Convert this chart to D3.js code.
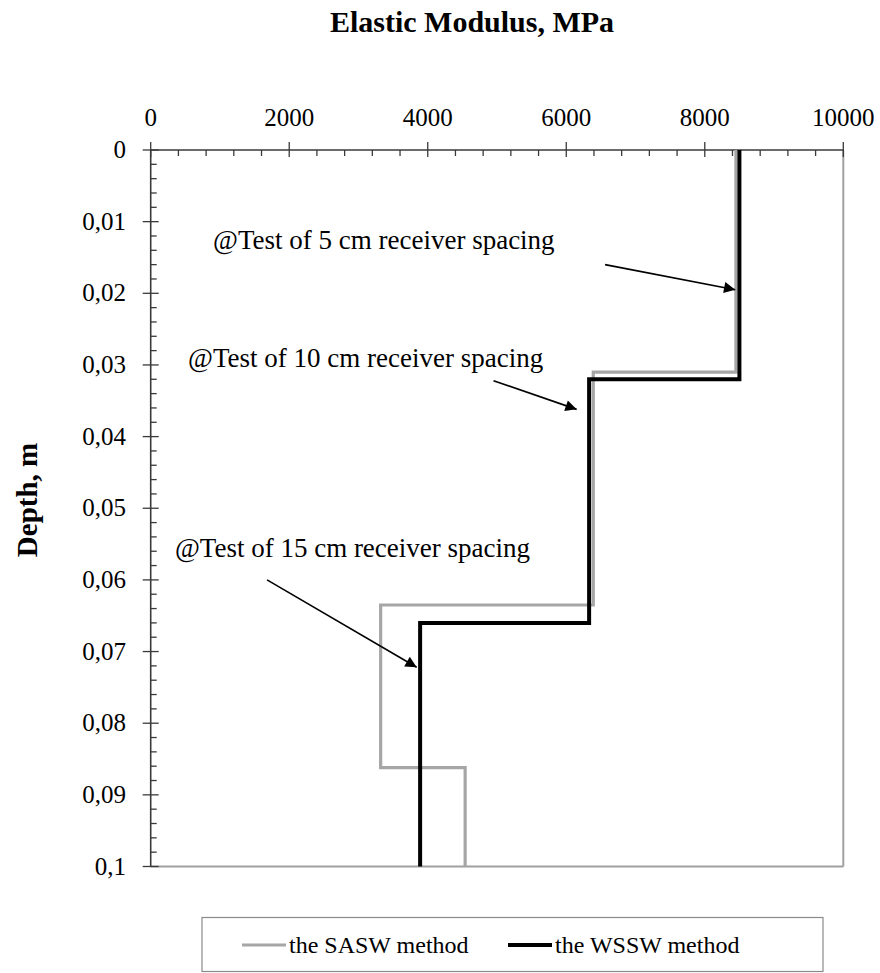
<!DOCTYPE html>
<html>
<head>
<meta charset="utf-8">
<script src="https://cdn.jsdelivr.net/npm/d3@7"></script>
<style>
  html, body { margin: 0; padding: 0; background: #fff; }
  svg { display: block; }
  text { font-family: "Liberation Serif", "Times New Roman", serif; fill: #000; }
</style>
</head>
<body>
<svg id="chart" width="880" height="973"></svg>
<script>
// Layered stiffness profiles: layer boundaries (depth, m) and modulus per layer (MPa)
const saswBoundaries = [0, 0.031, 0.0635, 0.0862, 0.1];
const saswModulus    = [8450, 6390, 3320, 4540];
const wsswBoundaries = [0, 0.032, 0.066, 0.1];
const wsswModulus    = [8500, 6330, 3890];

const xTicks = [0, 2000, 4000, 6000, 8000, 10000];
const yTicks = [0, 0.01, 0.02, 0.03, 0.04, 0.05, 0.06, 0.07, 0.08, 0.09, 0.1];
const yTickLabels = ["0", "0,01", "0,02", "0,03", "0,04", "0,05", "0,06", "0,07", "0,08", "0,09", "0,1"];

const seriesNames = ["the SASW method", "the WSSW method"];

// Annotations: label text, label anchor (modulus, depth) and arrow from/to (modulus, depth)
const noteTexts = ["@Test of 5 cm receiver spacing", "@Test of 10 cm receiver spacing", "@Test of 15 cm receiver spacing"];
const noteLabelAt = [[900, 0.0138], [540, 0.0303], [350, 0.0568]];
const noteArrowFrom = [[6560, 0.0160], [4950, 0.0322], [1680, 0.0600]];
const noteArrowTo = [[8440, 0.0195], [6150, 0.0362], [3840, 0.0722]];

const svg = d3.select("#chart");
const x = d3.scaleLinear().domain([0, 10000]).range([150.7, 843.3]);
const y = d3.scaleLinear().domain([0, 0.1]).range([150, 866.5]);

// Arrowhead marker
svg.append("defs").append("marker")
  .attr("id", "arrow")
  .attr("viewBox", "0 0 10 10")
  .attr("refX", 10).attr("refY", 5)
  .attr("markerWidth", 9).attr("markerHeight", 7)
  .attr("markerUnits", "strokeWidth")
  .attr("orient", "auto")
  .append("path").attr("d", "M0,0 L10,5 L0,10 Z").attr("fill", "#000");

// Right and bottom frame (light grey)
svg.append("line").attr("x1", x(10000)).attr("x2", x(10000)).attr("y1", y(0)).attr("y2", y(0.1))
  .attr("stroke", "#a0a0a0").attr("stroke-width", 2);
svg.append("line").attr("x1", x(0)).attr("x2", x(10000)).attr("y1", y(0.1)).attr("y2", y(0.1))
  .attr("stroke", "#a0a0a0").attr("stroke-width", 2);

// Top (x) axis
const axisColor = "#3a3a3a";
const gx = svg.append("g");
gx.append("line").attr("x1", x(0)).attr("x2", x(10000)).attr("y1", y(0)).attr("y2", y(0))
  .attr("stroke", axisColor).attr("stroke-width", 1.6);
d3.range(0, 10001, 400).forEach(v => {
  const major = v % 2000 === 0;
  gx.append("line").attr("x1", x(v)).attr("x2", x(v))
    .attr("y1", major ? y(0) - 8 : y(0)).attr("y2", y(0) + (major ? 7 : 6))
    .attr("stroke", axisColor).attr("stroke-width", 1.3);
});
gx.selectAll("text.xt").data(xTicks).enter().append("text")
  .attr("class", "xt")
  .attr("x", d => x(d)).attr("y", 126)
  .attr("text-anchor", "middle")
  .attr("font-size", 25)
  .text(d => d);

// Left (y) axis
const gy = svg.append("g");
gy.append("line").attr("x1", x(0)).attr("x2", x(0)).attr("y1", y(0)).attr("y2", y(0.1))
  .attr("stroke", axisColor).attr("stroke-width", 1.6);
d3.range(0, 51).forEach(i => {
  const v = i * 0.002;
  const major = i % 5 === 0;
  gy.append("line").attr("y1", y(v)).attr("y2", y(v))
    .attr("x1", major ? x(0) - 8 : x(0)).attr("x2", x(0) + (major ? 8 : 6))
    .attr("stroke", axisColor).attr("stroke-width", 1.3);
});
gy.selectAll("text.yt").data(yTicks).enter().append("text")
  .attr("class", "yt")
  .attr("x", 126).attr("y", d => y(d) + 8)
  .attr("text-anchor", "end")
  .attr("font-size", 25)
  .text((d, i) => yTickLabels[i]);

// Axis titles
svg.append("text").attr("x", 472).attr("y", 32).attr("text-anchor", "middle")
  .attr("font-size", 30).attr("font-weight", "bold").text("Elastic Modulus, MPa");
svg.append("text").attr("transform", "translate(37,500) rotate(-90)").attr("text-anchor", "middle")
  .attr("font-size", 29).attr("font-weight", "bold").text("Depth, m");

// Step profiles
function profilePoints(bounds, mods) {
  const pts = [];
  mods.forEach((m, i) => { pts.push([m, bounds[i]]); pts.push([m, bounds[i + 1]]); });
  return pts;
}
const line = d3.line().x(d => x(d[0])).y(d => y(d[1]));
svg.append("path").datum(profilePoints(saswBoundaries, saswModulus))
  .attr("d", line).attr("fill", "none").attr("stroke", "#a6a6a6").attr("stroke-width", 3.2)
  .attr("stroke-linejoin", "miter");
svg.append("path").datum(profilePoints(wsswBoundaries, wsswModulus))
  .attr("d", line).attr("fill", "none").attr("stroke", "#000").attr("stroke-width", 4)
  .attr("stroke-linejoin", "miter");

// Annotations
noteTexts.forEach((t, i) => {
  svg.append("text").attr("x", x(noteLabelAt[i][0])).attr("y", y(noteLabelAt[i][1]))
    .attr("font-size", 27).text(t);
  svg.append("line")
    .attr("x1", x(noteArrowFrom[i][0])).attr("y1", y(noteArrowFrom[i][1]))
    .attr("x2", x(noteArrowTo[i][0])).attr("y2", y(noteArrowTo[i][1]))
    .attr("stroke", "#000").attr("stroke-width", 1.6)
    .attr("marker-end", "url(#arrow)");
});

// Legend
const lg = svg.append("g");
lg.append("rect").attr("x", 202).attr("y", 917.5).attr("width", 621).attr("height", 54)
  .attr("fill", "#fff").attr("stroke", "#8a8a8a").attr("stroke-width", 1.2);
const legendItems = [
  { name: seriesNames[0], color: "#a6a6a6", w: 3.2, x0: 242 },
  { name: seriesNames[1], color: "#000", w: 4, x0: 508 }
];
legendItems.forEach(it => {
  lg.append("line").attr("x1", it.x0).attr("x2", it.x0 + 44).attr("y1", 945).attr("y2", 945)
    .attr("stroke", it.color).attr("stroke-width", it.w);
  lg.append("text").attr("x", it.x0 + 47).attr("y", 953).attr("font-size", 24).text(it.name);
});
</script>
</body>
</html>
